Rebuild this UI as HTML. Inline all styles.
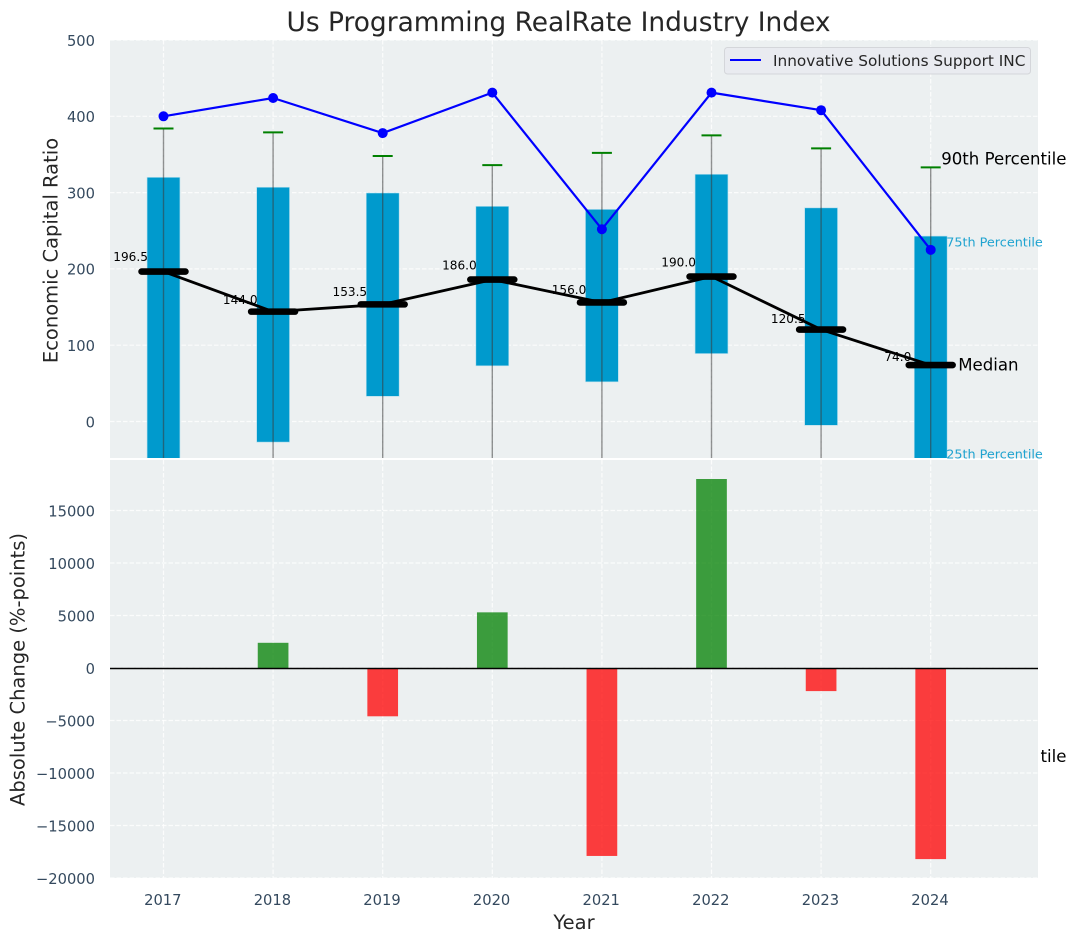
<!DOCTYPE html>
<html lang="en">
<head>
<meta charset="utf-8">
<title>Us Programming RealRate Industry Index</title>
<style>
html,body{margin:0;padding:0;background:#fff;width:1076px;height:942px;overflow:hidden}
svg{display:block}
text{font-family:"DejaVu Sans","Liberation Sans",sans-serif}
</style>
</head>
<body>
<svg id="chart" xmlns="http://www.w3.org/2000/svg" width="1076" height="942" viewBox="0 0 1076 942">
<defs>
<clipPath id="upper-clip"><rect x="110" y="40" width="928" height="418"></rect></clipPath>
<clipPath id="tail-clip"><rect x="1040" y="730" width="36" height="50"></rect></clipPath>
</defs>
</svg>
<script>
const years = ['2017','2018','2019','2020','2021','2022','2023','2024'];
const p90 = [384,379,348,336,352,375,358,333];
const p75 = [320,307,299.5,282,278,324,280,243];
const medians = [196.5,144,153.5,186,156,190,120.5,74];
const medianLabels = ['196.5','144.0','153.5','186.0','156.0','190.0','120.5','74.0'];
const p25 = [-70,-27,33,73,52,89,-5,-70];
const p10 = [-320,-280,-300,-260,-250,-240,-330,-440];
const company = [400,424,378,431,252,431,408,225];
const changes = [0,2400,-4600,5300,-17900,18000,-2200,-18200];
const upperTicks = [0,100,200,300,400,500];
const lowerTicks = [-20000,-15000,-10000,-5000,0,5000,10000,15000];
const lowerTickLabels = ['\u221220000','\u221215000','\u221210000','\u22125000','0','5000','10000','15000'];

const svg = document.getElementById('chart');
const NS = 'http://www.w3.org/2000/svg';
function mk(tag, attrs, parent, txt) {
  const e = document.createElementNS(NS, tag);
  for (const k in attrs) e.setAttribute(k, attrs[k]);
  if (txt !== undefined) e.textContent = txt;
  (parent || svg).appendChild(e);
  return e;
}
// axis functions
function xPos(i) { return 163.5 + i * 109.6; }
function xUnit(u) { return u * 109.6; }
function yUp(v) { return 421.5 - v * 0.763; }
function yLow(v) { return 668 - v * 0.0105; }

const GRID = 'rgba(255,255,255,0.8)';
const TICK = '#34495e';
const INK = '#262626';
const TICK_SIZE = 14.7;

/* ---------- upper axes ---------- */
const upperBg = mk('rect', {x:110,y:40,width:928,height:418,fill:'#ecf0f1'});



const upper = mk('g', {'clip-path':'url(#upper-clip)'});



years.forEach(function (y, i) {
  const g = mk('line', {x1:xPos(i),x2:xPos(i),y1:40,y2:458,stroke:GRID,'stroke-width':1.2,'stroke-dasharray':'4.5 2'}, upper);
  
  
});
upperTicks.forEach(function (t) {
  const g = mk('line', {x1:110,x2:1038,y1:yUp(t),y2:yUp(t),stroke:GRID,'stroke-width':1.2,'stroke-dasharray':'4.5 2'}, upper);
  
  
  const l = mk('text', {x:95,y:yUp(t)+5.8,'text-anchor':'end','font-size':TICK_SIZE,fill:TICK}, svg, String(t));
  
  
});

years.forEach(function (y, i) {
  const half = xUnit(0.15);
  const box = mk('rect', {x:xPos(i)-half,y:yUp(p75[i]),width:half*2,height:yUp(p25[i])-yUp(p75[i]),fill:'#009acd',stroke:'#b5dfee','stroke-width':0.6}, upper);
  
  
});
years.forEach(function (y, i) {
  const w = mk('line', {x1:xPos(i),x2:xPos(i),y1:yUp(p90[i]),y2:yUp(p10[i]),stroke:'#3a3a3a','stroke-opacity':0.55,'stroke-width':1.4}, upper);
  
  
  const c = mk('line', {x1:xPos(i)-10,x2:xPos(i)+10,y1:yUp(p90[i]),y2:yUp(p90[i]),stroke:'#008000','stroke-width':2}, upper);
  
  
});

const blueLine = mk('polyline', {points:company.map(function (v, i) { return xPos(i) + ',' + yUp(v); }).join(' '),fill:'none',stroke:'#0000ff','stroke-width':2.2,'stroke-linejoin':'round'}, upper);


company.forEach(function (v, i) {
  const d = mk('circle', {cx:xPos(i),cy:yUp(v),r:5,fill:'#0000ff'}, upper);
  
  
});

medians.forEach(function (v, i) {
  const t = mk('text', {x:xPos(i)-xUnit(0.3),y:yUp(v*1.07),'text-anchor':'middle','font-size':12.1,fill:'#000'}, upper, medianLabels[i]);
  
  
});
const medLine = mk('polyline', {points:medians.map(function (v, i) { return xPos(i) + ',' + yUp(v); }).join(' '),fill:'none',stroke:'#000','stroke-width':2.8,'stroke-linejoin':'round'}, upper);


medians.forEach(function (v, i) {
  const half = xUnit(0.2);
  const m = mk('line', {x1:xPos(i)-half,x2:xPos(i)+half,y1:yUp(v),y2:yUp(v),stroke:'#000','stroke-width':6.6,'stroke-linecap':'round'}, upper);
  
  
});

/* percentile annotations for the last year */
const last = years.length - 1;
const a90 = mk('text', {x:xPos(last)+10.5,y:yUp(p90[last])-3,'font-size':16.6,fill:'#000'}, svg, '90th Percentile');


const a75 = mk('text', {x:xPos(last)+15.5,y:yUp(p75[last])+10.5,'font-size':12.8,fill:'#1fa3d0'}, svg, '75th Percentile');


const aMed = mk('text', {x:xPos(last)+27.5,y:yUp(medians[last])+5.5,'font-size':16.6,fill:'#000'}, svg, 'Median');


const a25 = mk('text', {x:xPos(last)+15.5,y:458.5,'font-size':12.8,fill:'#1fa3d0'}, svg, '25th Percentile');


const a10 = mk('text', {x:xPos(last)+10.5,y:yUp(p10[last])+5,'font-size':16.6,fill:'#000','clip-path':'url(#tail-clip)'}, svg, '10th Percentile');



/* legend */
const legend = mk('g', {});


const legendBox = mk('rect', {x:724.5,y:47.5,width:306,height:26.5,rx:3,fill:'#e9ebf0',stroke:'#d4d6da','stroke-width':1}, legend);


const legendLine = mk('line', {x1:730,x2:761,y1:60,y2:60,stroke:'#0000ff','stroke-width':2.1}, legend);


const legendText = mk('text', {x:773,y:66,'font-size':15.3,fill:INK}, legend, 'Innovative Solutions Support INC');



/* ---------- lower axes ---------- */
const lowerBg = mk('rect', {x:110,y:460,width:928,height:418,fill:'#ecf0f1'});



years.forEach(function (y, i) {
  const g = mk('line', {x1:xPos(i),x2:xPos(i),y1:460,y2:878,stroke:GRID,'stroke-width':1.2,'stroke-dasharray':'4.5 2'});
  
  
  const l = mk('text', {x:xPos(i)-0.7,y:905,'text-anchor':'middle','font-size':TICK_SIZE,fill:TICK}, svg, y);
  
  
});
lowerTicks.forEach(function (t, i) {
  const g = mk('line', {x1:110,x2:1038,y1:yLow(t),y2:yLow(t),stroke:GRID,'stroke-width':1.2,'stroke-dasharray':'4.5 2'});
  
  
  const l = mk('text', {x:95,y:yLow(t)+5.8,'text-anchor':'end','font-size':TICK_SIZE,fill:TICK}, svg, lowerTickLabels[i]);
  
  
});

changes.forEach(function (v, i) {
  const half = xUnit(0.14);
  const top = Math.min(yLow(v), yLow(0));
  const b = mk('rect', {x:xPos(i)-half,y:top,width:half*2,height:Math.abs(yLow(v)-yLow(0)),fill:v >= 0 ? '#008000' : '#ff0000','fill-opacity':0.75});
  
  
});

const zero = mk('line', {x1:110,x2:1038,y1:yLow(0)+0.5,y2:yLow(0)+0.5,stroke:'#000','stroke-width':1.4});



/* ---------- titles ---------- */
const title = mk('text', {x:558.5,y:31,'text-anchor':'middle','font-size':26.45,fill:INK}, svg, 'Us Programming RealRate Industry Index');


const yu = mk('text', {transform:'translate(57.5 250.5) rotate(-90)','text-anchor':'middle','font-size':19.5,fill:INK}, svg, 'Economic Capital Ratio');


const yl = mk('text', {transform:'translate(24.5 669.5) rotate(-90)','text-anchor':'middle','font-size':19.5,fill:INK}, svg, 'Absolute Change (%-points)');


const xt = mk('text', {x:574,y:929,'text-anchor':'middle','font-size':19.5,fill:INK}, svg, 'Year');


</script>
</body>
</html>
